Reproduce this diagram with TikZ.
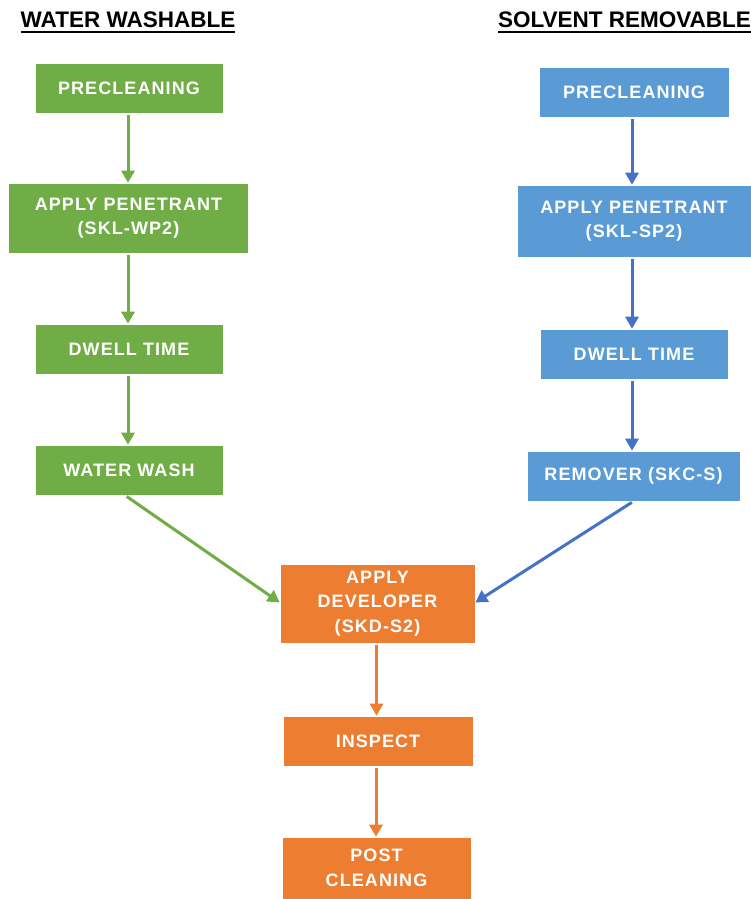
\documentclass[tikz,border=0pt]{standalone}
\usepackage{fontspec}
\setmainfont{Liberation Sans}
\newfontfamily\boxfont[LetterSpace=6]{Liberation Sans}
\usetikzlibrary{arrows.meta}
\definecolor{gfill}{HTML}{70AD47}
\definecolor{bfill}{HTML}{5B9BD5}
\definecolor{ofill}{HTML}{ED7D31}
\definecolor{barrow}{HTML}{4472C4}
\tikzset{
  stepbox/.style={draw=white, line width=0.6pt, text=white, align=center,
    font=\boxfont\bfseries\fontsize{18}{24.5}\selectfont, inner sep=0pt},
  gbox/.style={stepbox, fill=gfill},
  bbox/.style={stepbox, fill=bfill},
  obox/.style={stepbox, fill=ofill},
  conn/.style={line width=3pt, -{Triangle[length=12pt,width=13pt]}, shorten <=2pt},
  header/.style={font=\bfseries\fontsize{22.5}{24}\selectfont, inner sep=0pt, anchor=base}
}
\begin{document}
\begin{tikzpicture}[x=1pt,y=-1pt]
\useasboundingbox (0,0) rectangle (751,899);
% headers
\node[header] (h1) at (128,28) {WATER WASHABLE};
\node[header] (h2) at (624.5,28) {SOLVENT REMOVABLE};
\draw[line width=2pt] ([yshift=-4pt]h1.base west) -- ([yshift=-4pt]h1.base east);
\draw[line width=2pt] ([yshift=-4pt]h2.base west) -- ([yshift=-4pt]h2.base east);
% green column
\node[gbox, minimum width=188, minimum height=50] (gp) at (129,88) {PRECLEANING};
\node[gbox, minimum width=240, minimum height=70] (ga) at (128.5,218) {APPLY PENETRANT\\(SKL-WP2)};
\node[gbox, minimum width=188, minimum height=50] (gd) at (129,349) {DWELL TIME};
\node[gbox, minimum width=188, minimum height=50] (gw) at (129,470) {WATER WASH};
% blue column
\node[bbox, minimum width=190, minimum height=50] (bp) at (634,92) {PRECLEANING};
\node[bbox, minimum width=234, minimum height=72] (ba) at (634,221) {APPLY PENETRANT\\(SKL-SP2)};
\node[bbox, minimum width=188, minimum height=50] (bd) at (634,354) {DWELL TIME};
\node[bbox, minimum width=213, minimum height=50] (br) at (633.5,476) {REMOVER (SKC-S)};
% orange column
\node[obox, minimum width=195, minimum height=79] (dev) at (377.5,603.5) {APPLY\\DEVELOPER\\(SKD-S2)};
\node[obox, minimum width=190, minimum height=50] (ins) at (378,741) {INSPECT};
\node[obox, minimum width=189, minimum height=62] (post) at (376.5,868) {POST\\CLEANING};
% connectors
\draw[conn, gfill] ([xshift=-1pt]gp.south) -- ([xshift=-1pt]gp.south |- ga.north);
\draw[conn, gfill] ([xshift=-0.5pt]ga.south) -- ([xshift=-0.5pt]ga.south |- gd.north);
\draw[conn, gfill] ([xshift=-1pt]gd.south) -- ([xshift=-1pt]gd.south |- gw.north);
\draw[conn, gfill] ([xshift=-4pt]gw.south) -- ([yshift=1pt]dev.west);
\draw[conn, barrow] ([xshift=-2pt]bp.south) -- ([xshift=-2pt]bp.south |- ba.north);
\draw[conn, barrow] ([xshift=-2pt]ba.south) -- ([xshift=-2pt]ba.south |- bd.north);
\draw[conn, barrow] ([xshift=-2pt]bd.south) -- ([xshift=-2pt]bd.south |- br.north);
\draw[conn, barrow] (br.south) -- ([yshift=1pt]dev.east);
\draw[conn, ofill] ([xshift=-1pt]dev.south) -- ([xshift=-1pt]dev.south |- ins.north);
\draw[conn, ofill] ([xshift=-2pt]ins.south) -- ([xshift=-2pt]ins.south |- post.north);
\end{tikzpicture}
\end{document}
